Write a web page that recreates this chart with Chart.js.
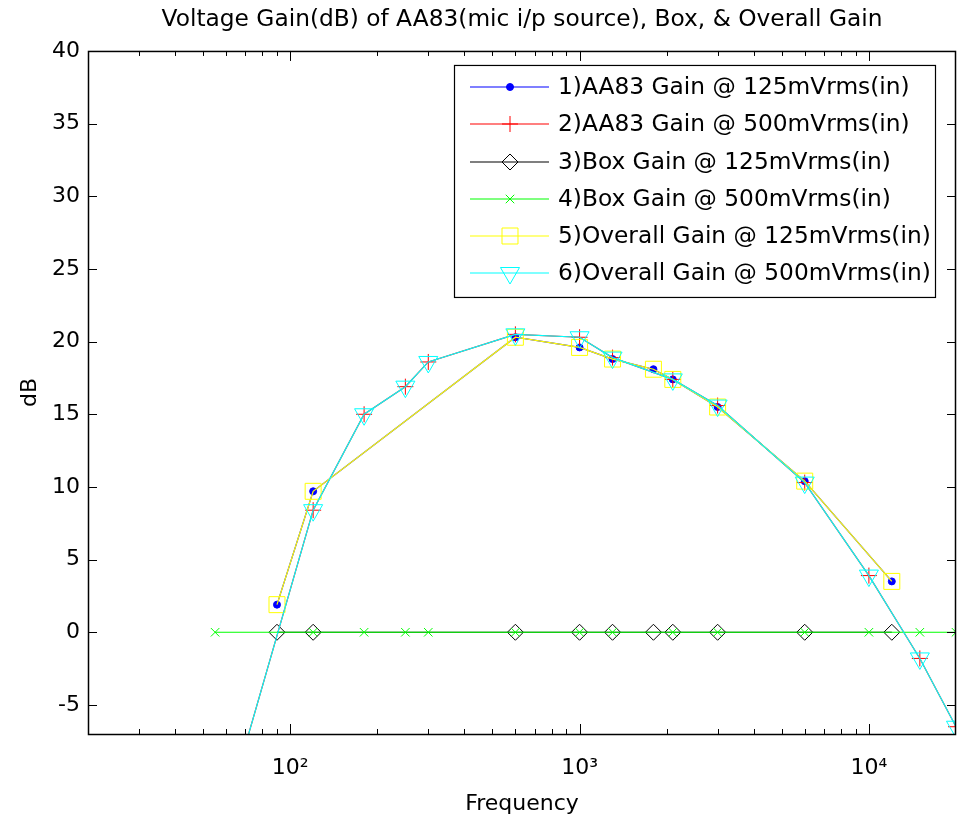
<!DOCTYPE html>
<html lang="en">
<head>
<meta charset="UTF-8">
<title>Voltage Gain(dB) of AA83, Box, &amp; Overall Gain</title>
<script src="https://cdn.jsdelivr.net/npm/chart.js"></script>
<style>
  html, body { margin: 0; padding: 0; background: #fff; }
</style>
</head>
<body>
<canvas id="gainChart" width="959" height="819"></canvas>
<script>
// Frequencies (Hz) of the two measurement runs
const freq125 = [90, 120, 600, 1000, 1300, 1800, 2100, 3000, 6000, 12000];
const freq500 = [55, 120, 180, 250, 300, 600, 1000, 1300, 2100, 3000, 6000, 10000, 15000, 20000];

// Gains in dB
const aa83At125    = [1.9, 9.7, 20.3, 19.6, 18.8, 18.1, 17.4, 15.5, 10.4, 3.5];
const aa83At500    = [-15, 8.4, 15.0, 16.9, 18.6, 20.5, 20.3, 18.9, 17.4, 15.6, 10.3, 3.9, -1.8, -6.5];
const boxAt125     = [0, 0, 0, 0, 0, 0, 0, 0, 0, 0];
const boxAt500     = [0, 0, 0, 0, 0, 0, 0, 0, 0, 0, 0, 0, 0, 0];
const overallAt125 = [1.9, 9.7, 20.3, 19.6, 18.8, 18.1, 17.4, 15.5, 10.4, 3.5];
const overallAt500 = [-15, 8.4, 15.0, 16.9, 18.6, 20.5, 20.3, 18.9, 17.4, 15.6, 10.3, 3.9, -1.8, -6.5];

const seriesLabels = [
    '1)AA83 Gain @ 125mVrms(in)',
    '2)AA83 Gain @ 500mVrms(in)',
    '3)Box Gain @ 125mVrms(in)',
    '4)Box Gain @ 500mVrms(in)',
    '5)Overall Gain @ 125mVrms(in)',
    '6)Overall Gain @ 500mVrms(in)'
];

const xMajorTicks = [100, 1000, 10000];
const xMinorTicks = [30, 40, 50, 60, 70, 80, 90, 200, 300, 400, 500, 600, 700, 800, 900,
                     2000, 3000, 4000, 5000, 6000, 7000, 8000, 9000];
const yTicks = [-5, 0, 5, 10, 15, 20, 25, 30, 35, 40];

const FONT = 'DejaVu Sans';
const sup = { 2: '\u00B2', 3: '\u00B3', 4: '\u2074' };

function toPoints(xs, ys) {
    return xs.map((x, i) => ({ x: x, y: ys[i] }));
}

function makeSeries(i, xs, ys, color, style) {
    return Object.assign({
        label: seriesLabels[i],
        data: toPoints(xs, ys),
        borderColor: color,
        borderWidth: 1.2,
        pointBorderColor: color,
        pointBackgroundColor: 'rgba(0,0,0,0)',
        pointBorderWidth: 1,
        tension: 0,
        fill: false,
        order: 5 - i   // last series drawn on top, like MATLAB
    }, style);
}

const datasets = [
    makeSeries(0, freq125, aa83At125, '#0000ff', { pointStyle: 'circle', pointRadius: 3.5, pointBackgroundColor: '#0000ff' }),
    makeSeries(1, freq500, aa83At500, '#ff0000', { pointStyle: 'cross', pointRadius: 8 }),
    makeSeries(2, freq125, boxAt125, '#000000', { pointStyle: 'rectRot', pointRadius: 8 }),
    makeSeries(3, freq500, boxAt500, '#00ff00', { pointStyle: 'crossRot', pointRadius: 6 }),
    makeSeries(4, freq125, overallAt125, '#ffff00', { pointStyle: 'rect', pointRadius: 11.3 }),
    makeSeries(5, freq500, overallAt500, '#00ffff', { pointStyle: 'triangle', pointRadius: 11, pointRotation: 180 })
];

// box + inward ticks on all four sides
const matlabAxes = {
    id: 'matlabAxes',
    afterDatasetsDraw(chart) {
        const { ctx, chartArea: a, scales: { x, y } } = chart;
        ctx.save();
        ctx.strokeStyle = '#000';
        ctx.lineWidth = 1;
        ctx.beginPath();
        x.ticks.forEach(t => {
            const px = Math.round(x.getPixelForValue(t.value)) + 0.5;
            const len = xMajorTicks.includes(t.value) ? 10 : 5;
            ctx.moveTo(px, a.bottom); ctx.lineTo(px, a.bottom - len);
            ctx.moveTo(px, a.top); ctx.lineTo(px, a.top + len);
        });
        y.ticks.forEach(t => {
            const py = Math.round(y.getPixelForValue(t.value)) + 0.5;
            ctx.moveTo(a.left, py); ctx.lineTo(a.left + 9, py);
            ctx.moveTo(a.right, py); ctx.lineTo(a.right - 9, py);
        });
        ctx.stroke();
        ctx.lineWidth = 1.5;
        ctx.strokeRect(a.left + 0.5, a.top + 0.5, a.right - a.left - 1, a.bottom - a.top);
        ctx.restore();
    }
};

// legend box with line + marker samples
const matlabLegend = {
    id: 'matlabLegend',
    afterDraw(chart) {
        const { ctx, chartArea: a } = chart;
        const right = a.right - 21, top = a.top + 14;
        const left = right - 481, height = 232;
        ctx.save();
        ctx.fillStyle = '#fff';
        ctx.fillRect(left, top, right - left, height);
        ctx.strokeStyle = '#000';
        ctx.lineWidth = 1.2;
        ctx.strokeRect(left + 0.5, top + 0.5, right - left, height);
        ctx.font = '23.3px "' + FONT + '"';
        ctx.textBaseline = 'middle';
        chart.data.datasets.forEach((ds, i) => {
            const ry = Math.round(top + 22 + i * 37.3);
            ctx.strokeStyle = ds.borderColor;
            ctx.lineWidth = 1.2;
            ctx.beginPath();
            ctx.moveTo(left + 16, ry);
            ctx.lineTo(left + 95, ry);
            ctx.stroke();
            ctx.fillStyle = ds.pointBackgroundColor;
            ctx.lineWidth = 1;
            Chart.helpers.drawPoint(ctx, {
                pointStyle: ds.pointStyle,
                radius: ds.pointRadius,
                rotation: ds.pointRotation || 0,
                borderWidth: 1
            }, left + 56, ry);
            ctx.fillStyle = '#000';
            ctx.fillText(ds.label, left + 104, ry + 1);
        });
        ctx.restore();
    }
};

const axisFont = { family: FONT, size: 22 };

new Chart(document.getElementById('gainChart'), {
    type: 'line',
    data: { datasets: datasets },
    plugins: [matlabAxes, matlabLegend],
    options: {
        responsive: false,
        animation: false,
        events: [],
        layout: { autoPadding: false, padding: { left: 0, right: 3, top: 0, bottom: 0 } },
        plugins: {
            legend: { display: false },
            tooltip: { enabled: false },
            title: {
                display: true,
                fullSize: false,
                text: 'Voltage Gain(dB) of AA83(mic i/p source), Box, & Overall Gain',
                color: '#000',
                font: { family: FONT, size: 23.3, weight: 'normal' },
                padding: { top: 6, bottom: 17 }
            }
        },
        scales: {
            x: {
                type: 'logarithmic',
                min: 20,
                max: 20000,
                afterBuildTicks: s => {
                    s.ticks = xMinorTicks.concat(xMajorTicks)
                        .sort((p, q) => p - q)
                        .map(v => ({ value: v }));
                },
                afterFit: s => {
                    s.height = 85;
                    s.paddingLeft = 0;
                    s.paddingRight = 0;
                },
                grid: { display: false, drawTicks: false },
                border: { display: false },
                ticks: {
                    autoSkip: false,
                    maxRotation: 0,
                    padding: 21,
                    color: '#000',
                    font: axisFont,
                    callback: v => xMajorTicks.includes(v) ? '10' + sup[Math.round(Math.log10(v))] : ''
                },
                title: { display: true, text: 'Frequency', color: '#000', font: axisFont, padding: { top: 0, bottom: 2 } }
            },
            y: {
                min: -7,
                max: 40,
                afterBuildTicks: s => { s.ticks = yTicks.map(v => ({ value: v })); },
                afterFit: s => { s.width = 88; },
                grid: { display: false, drawTicks: false },
                border: { display: false },
                ticks: { padding: 8, color: '#000', font: axisFont },
                title: { display: true, text: 'dB', color: '#000', font: axisFont, padding: { top: 17, bottom: 0 } }
            }
        }
    }
});
</script>
</body>
</html>
